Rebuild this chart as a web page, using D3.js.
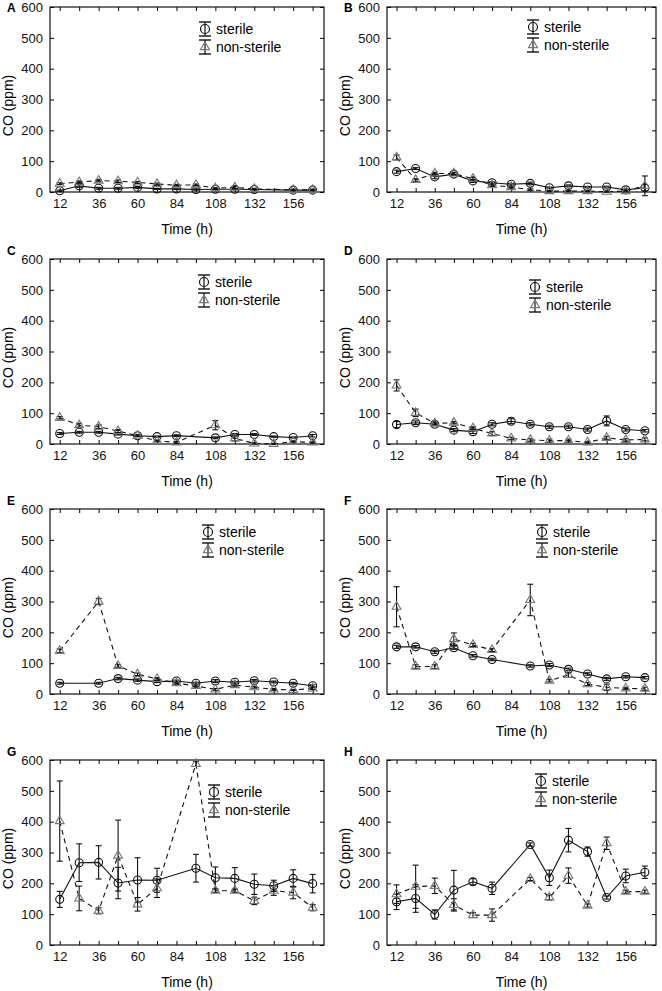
<!DOCTYPE html>
<meta charset="utf-8">
<script src="https://d3js.org/d3.v7.min.js"></script>
<style>
body { margin: 0; background: #fff; font-family: "Liberation Sans", Arial, sans-serif; }
</style>
<svg width="662" height="991"></svg>
<script>
// sampling times (h), panel names, y ticks
var hours = [12, 24, 36, 48, 60, 72, 84, 96, 108, 120, 132, 144, 156, 168];
var panelNames = ["A", "B", "C", "D", "E", "F", "G", "H"];
var yTicks = [0, 100, 200, 300, 400, 500, 600];

// mean CO (ppm), one row per panel A..H (null = no sample)
var sterileMean = [
  [4, 20, 12, 12, 15, 10, 10, 8, 9, 9, 8, null, 6, 6],
  [66, 76, 49, 58, 36, 30, 25, 28, 14, 20, 16, 16, 7, 14],
  [34, 38, 38, 32, 27, 24, 27, null, 20, 31, 31, 24, 21, 27],
  [63, 69, 64, 45, 40, 64, 74, 64, 56, 56, 47, 75, 47, 43],
  [35, null, 35, 50, 45, 40, 42, 35, 42, 38, 43, 39, 35, 27],
  [153, 153, 137, 150, 124, 112, null, 91, 94, 80, 65, 49, 56, 53],
  [148, 267, 268, 201, 211, 210, null, 249, 218, 216, 197, 192, 216, 199],
  [140, 151, 99, 178, 205, 184, null, 326, 218, 340, 303, 154, 224, 236]
];
var sterileErr = [
  [2, 5, 3, 3, 3, 2, 2, 2, 2, 2, 2, null, 2, 2],
  [5, 3, 6, 4, 5, 3, 3, 4, 2, 3, 2, 3, 2, 10],
  [3, 3, 3, 3, 3, 2, 3, null, 3, 3, 3, 2, 2, 4],
  [10, 6, 5, 5, 6, 5, 8, 5, 5, 5, 5, 16, 5, 4],
  [3, null, 3, 4, 4, 3, 3, 3, 5, 3, 4, 3, 3, 3],
  [5, 4, 5, 5, 4, 4, null, 4, 5, 4, 4, 5, 4, 4],
  [26, 61, 54, 51, 72, 39, null, 45, 35, 35, 33, 18, 28, 30],
  [25, 45, 15, 64, 10, 20, null, 5, 25, 38, 15, 5, 22, 20]
];
var nonSterileMean = [
  [27, 32, 37, 35, 31, 26, 22, 23, 12, 15, 10, null, 7, 7],
  [112, 39, 60, 60, 43, 22, 16, 7, 3, 3, 3, 1, 3, 20],
  [85, 61, 56, 42, 27, 10, 5, null, 61, 18, 2, 0, 8, 5],
  [190, 101, 67, 69, 51, 34, 18, 13, 11, 11, 5, 20, 13, 15],
  [140, null, 300, 91, 64, 49, 35, 26, 15, 29, 22, 15, 13, 18],
  [283, 89, 89, 178, 159, 143, null, 305, 43, 62, 32, 22, 18, 17],
  [402, 151, 111, 290, 132, 184, null, 587, 176, 176, 143, 176, 170, 121],
  [165, 189, 192, 130, 97, 97, null, 214, 154, 225, 128, 330, 173, 173]
];
var nonSterileErr = [
  [3, 4, 4, 4, 3, 3, 3, 3, 2, 3, 2, null, 2, 2],
  [8, 4, 4, 4, 4, 3, 3, 3, 2, 2, 2, 2, 2, 32],
  [4, 6, 6, 5, 3, 3, 3, null, 15, 8, 2, 2, 2, 2],
  [18, 12, 5, 4, 5, 6, 4, 4, 5, 5, 2, 5, 4, 5],
  [6, null, 10, 4, 4, 4, 3, 3, 3, 3, 3, 3, 2, 3],
  [65, 6, 6, 20, 5, 5, null, 51, 4, 8, 5, 10, 4, 5],
  [130, 40, 10, 115, 22, 30, null, 8, 5, 5, 12, 15, 20, 10],
  [30, 70, 25, 20, 8, 20, null, 5, 8, 25, 5, 20, 5, 5]
];
var seriesNames = ["sterile", "non-sterile"];

// layout
var colX = [[50, 324], [387, 656]];
var rowTop = [7, 259, 509, 760];
var plotH = 185;
var legendPos = [[155, 22], [146, 20], [154, 23], [148, 28], [158, 23], [155, 23], [164, 32], [154, 21]];

var svg = d3.select("svg");
var font = "'Liberation Sans', Arial, sans-serif";
var triangle = d3.symbol().type(d3.symbolTriangle).size(34);

function points(vals, errs) {
  return hours.map(function(h, j) { return {h: h, v: vals[j], e: errs[j]}; })
    .filter(function(d) { return d.v != null; });
}

panelNames.forEach(function(name, i) {
  var col = i % 2, row = Math.floor(i / 2);
  var left = colX[col][0], right = colX[col][1];
  var top = rowTop[row], bottom = top + plotH;

  var x = d3.scaleLinear().domain([6, 175]).range([left, right]);
  var y = d3.scaleLinear().domain([0, 600]).range([bottom, top]);

  var g = svg.append("g");

  // axes, ticks pointing inward
  g.append("g")
    .attr("transform", "translate(0," + bottom + ")")
    .call(d3.axisBottom(x).tickValues(hours).tickSizeInner(-4).tickSizeOuter(0).tickPadding(7)
      .tickFormat(function(d) { return (d - 12) % 24 === 0 ? d : ""; }))
    .call(function(a) { a.select(".domain").remove(); })
    .attr("font-size", 13).attr("font-family", font);

  g.append("g")
    .attr("transform", "translate(0," + top + ")")
    .call(d3.axisTop(x).tickValues(hours).tickSizeInner(-4).tickSizeOuter(0).tickFormat(""))
    .call(function(a) { a.select(".domain").remove(); });

  g.append("g")
    .attr("transform", "translate(" + left + ",0)")
    .call(d3.axisLeft(y).tickValues(yTicks).tickSizeInner(-4).tickSizeOuter(0).tickPadding(7))
    .call(function(a) { a.select(".domain").remove(); })
    .attr("font-size", 13).attr("font-family", font);

  g.append("g")
    .attr("transform", "translate(" + right + ",0)")
    .call(d3.axisRight(y).tickValues(yTicks).tickSizeInner(-4).tickSizeOuter(0).tickFormat(""))
    .call(function(a) { a.select(".domain").remove(); });

  g.selectAll(".tick text").attr("fill", "#111");

  // frame
  g.append("rect")
    .attr("x", left).attr("y", top)
    .attr("width", right - left).attr("height", plotH)
    .attr("fill", "none").attr("stroke", "#111").attr("stroke-width", 1.2);

  // axis titles and panel letter
  g.append("text")
    .attr("x", (left + right) / 2).attr("y", bottom + 42)
    .attr("text-anchor", "middle").attr("font-size", 14).attr("font-family", font)
    .text("Time (h)");

  g.append("text")
    .attr("transform", "translate(" + (left - 37) + "," + (top + plotH / 2 + 6) + ") rotate(-90)")
    .attr("text-anchor", "middle").attr("font-size", 14).attr("font-family", font)
    .text("CO (ppm)");

  g.append("text")
    .attr("x", left - 43).attr("y", row === 0 ? 12 : top - 4)
    .attr("font-size", 12).attr("font-weight", "bold").attr("font-family", font)
    .text(name);

  var line = d3.line().x(function(d) { return x(d.h); }).y(function(d) { return y(d.v); });

  var sets = [
    {data: points(sterileMean[i], sterileErr[i]), dash: null, mark: "circle"},
    {data: points(nonSterileMean[i], nonSterileErr[i]), dash: "5,4", mark: "tri"}
  ];

  sets.forEach(function(s) {
    g.append("path")
      .datum(s.data)
      .attr("d", line)
      .attr("fill", "none").attr("stroke", "#111").attr("stroke-width", 1.1)
      .attr("stroke-dasharray", s.dash);

    var eb = g.append("g").attr("stroke", "#111").attr("stroke-width", 1.1);
    eb.selectAll("line.v").data(s.data).enter().append("line")
      .attr("x1", function(d) { return x(d.h); }).attr("x2", function(d) { return x(d.h); })
      .attr("y1", function(d) { return y(d.v - d.e); }).attr("y2", function(d) { return y(d.v + d.e); });
    eb.selectAll("line.t").data(s.data).enter().append("line")
      .attr("x1", function(d) { return x(d.h) - 3; }).attr("x2", function(d) { return x(d.h) + 3; })
      .attr("y1", function(d) { return y(d.v + d.e); }).attr("y2", function(d) { return y(d.v + d.e); });
    eb.selectAll("line.b").data(s.data).enter().append("line")
      .attr("x1", function(d) { return x(d.h) - 3; }).attr("x2", function(d) { return x(d.h) + 3; })
      .attr("y1", function(d) { return y(d.v - d.e); }).attr("y2", function(d) { return y(d.v - d.e); });

    if (s.mark === "circle") {
      g.selectAll(null).data(s.data).enter().append("circle")
        .attr("cx", function(d) { return x(d.h); }).attr("cy", function(d) { return y(d.v); })
        .attr("r", 4).attr("fill", "none").attr("stroke", "#111").attr("stroke-width", 1.1);
    } else {
      g.selectAll(null).data(s.data).enter().append("path")
        .attr("d", triangle)
        .attr("transform", function(d) { return "translate(" + x(d.h) + "," + y(d.v) + ")"; })
        .attr("fill", "none").attr("stroke", "#777").attr("stroke-width", 1.1);
    }
  });

  // legend
  var lx = left + legendPos[i][0], ly = top + legendPos[i][1];
  seriesNames.forEach(function(label, k) {
    var cy = ly + k * 18;
    var lg = g.append("g");
    lg.append("line").attr("x1", lx).attr("x2", lx).attr("y1", cy - 7).attr("y2", cy + 7)
      .attr("stroke", "#111").attr("stroke-width", 1.2);
    [cy - 7, cy + 7].forEach(function(cyy) {
      lg.append("line").attr("x1", lx - 6).attr("x2", lx + 6).attr("y1", cyy).attr("y2", cyy)
        .attr("stroke", "#111").attr("stroke-width", 1.4);
    });
    if (k === 0) {
      lg.append("circle").attr("cx", lx).attr("cy", cy).attr("r", 4.5)
        .attr("fill", "none").attr("stroke", "#111").attr("stroke-width", 1.2);
    } else {
      lg.append("path").attr("d", triangle).attr("transform", "translate(" + lx + "," + cy + ")")
        .attr("fill", "none").attr("stroke", "#777").attr("stroke-width", 1.2);
    }
    lg.append("text").attr("x", lx + 11).attr("y", cy + 5)
      .attr("font-size", 14).attr("font-family", font).text(label);
  });
});
</script>
